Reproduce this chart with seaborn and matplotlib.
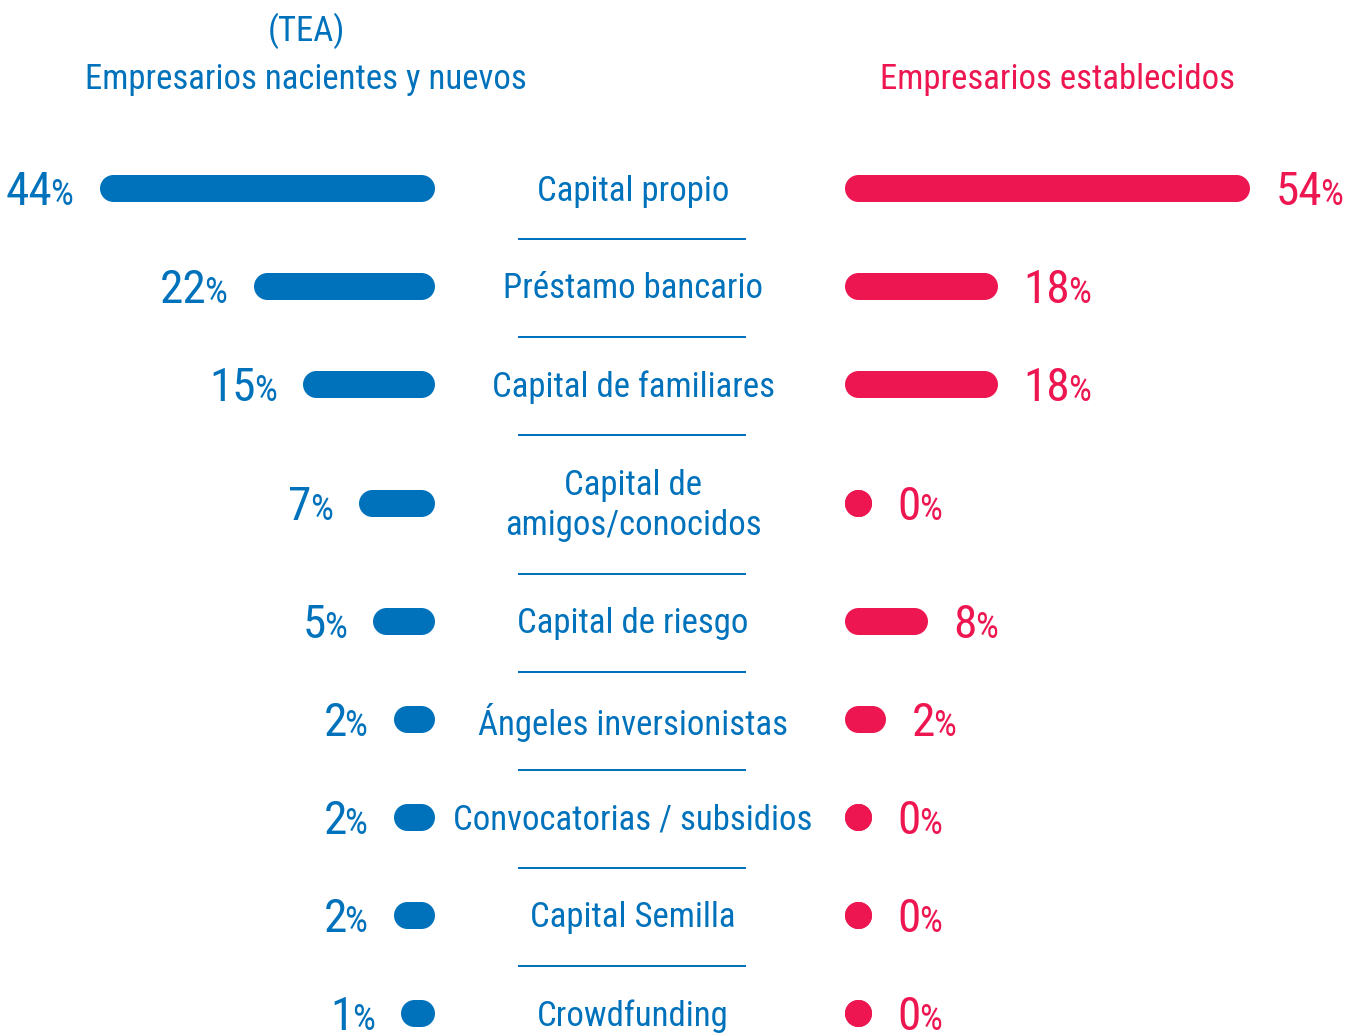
import matplotlib
matplotlib.use("Agg")
import matplotlib.pyplot as plt
from matplotlib import font_manager
from matplotlib.font_manager import FontProperties
import numpy as np
import pandas as pd
import seaborn as sns

# ---- data -------------------------------------------------------------
categories = [
    "Capital propio",
    "Préstamo bancario",
    "Capital de familiares",
    "Capital de\namigos/conocidos",
    "Capital de riesgo",
    "Ángeles inversionistas",
    "Convocatorias / subsidios",
    "Capital Semilla",
    "Crowdfunding",
]
tea_values = [44, 22, 15, 7, 5, 2, 2, 2, 1]
established_values = [54, 18, 18, 0, 8, 2, 0, 0, 0]
left_title_top = "(TEA)"
left_title = "Empresarios nacientes y nuevos"
right_title = "Empresarios establecidos"

BLUE = "#0072BC"
RED = "#ED1651"

# ---- theme / fonts ----------------------------------------------------
sns.set_theme(style="white")


def pick_font():
    names = {f.name for f in font_manager.fontManager.ttflist}
    for cand in ["Liberation Sans Narrow", "DejaVu Sans Condensed",
                 "Roboto Condensed", "Open Sans Condensed"]:
        if cand in names:
            return cand, "normal"
    for f in font_manager.fontManager.ttflist:
        if f.name == "DejaVu Sans" and f.stretch in ("condensed", 700):
            return "DejaVu Sans", "condensed"
    return "Roboto", "normal"


FONT, STRETCH = pick_font()
plt.rcParams["font.family"] = [FONT, "DejaVu Sans"]
plt.rcParams["font.stretch"] = STRETCH

W, H, DPI = 1364, 1036, 100
PX = 72 / DPI  # points per pixel

fig = plt.figure(figsize=(W / DPI, H / DPI), dpi=DPI)
fig.patch.set_facecolor("white")

# full-figure layout axes (pixel units, y down)
ax = fig.add_axes([0, 0, 1, 1])
ax.set_xlim(0, W)
ax.set_ylim(H, 0)
ax.axis("off")

# row layout: two-line labels get a taller row
row_h = np.array([139 if "\n" in c else 98 for c in categories], dtype=float)
top = 139
row_start = top + np.concatenate([[0], np.cumsum(row_h)[:-1]])
row_center = row_start + row_h / 2
separators = row_start[1:] + 2

SCALE = 7.0          # pixels per percentage point
BAR_PX = 27          # bar thickness
CAP = BAR_PX / 2
GAP = 26
LEFT_ORIGIN = 421
RIGHT_ORIGIN = 858
CENTER_X = 633

ax_l = fig.add_axes([0, 0, LEFT_ORIGIN / W, 1])
ax_l.set_xlim(LEFT_ORIGIN / SCALE, 0)
ax_r = fig.add_axes([RIGHT_ORIGIN / W, 0, (W - RIGHT_ORIGIN) / W, 1])
ax_r.set_xlim(0, (W - RIGHT_ORIGIN) / SCALE)
for a in (ax_l, ax_r):
    a.set_ylim(H, 0)
    a.axis("off")
    a.patch.set_alpha(0)

df = pd.DataFrame({
    "categoria": categories,
    "fila": row_center,
    "tea": tea_values,
    "establecidos": established_values,
})

renderer = fig.canvas.get_renderer()

NUM_PT = 34
PCT_PT = 26
LABEL_PT = 25
TITLE_PT = 25


def descent_px(size_pt):
    fp = FontProperties(family=[FONT, "DejaVu Sans"], stretch=STRETCH, size=size_pt)
    return renderer.get_text_width_height_descent("lp", fp, ismath=False)[2]


PCT_DESC = descent_px(PCT_PT)
NUM_DESC = descent_px(NUM_PT)
BASE_DROP = 17


def draw_side(a, col, color, side):
    vals = df[col].to_numpy()
    ys = df["fila"].to_numpy()
    a.hlines(ys, 0, vals, colors=color, linewidth=BAR_PX * PX,
             capstyle="butt", clip_on=False, zorder=2)
    ends = pd.DataFrame({"x": np.concatenate([np.zeros_like(vals), vals]),
                         "y": np.concatenate([ys, ys])})
    sns.scatterplot(data=ends, x="x", y="y", ax=a, color=color,
                    s=(BAR_PX * PX) ** 2, linewidth=0, marker="o",
                    legend=False, clip_on=False, zorder=3)
    a.set_xlabel("")
    a.set_ylabel("")
    off = CAP + GAP
    for v, y in zip(vals, ys):
        if side == "left":
            pct = a.annotate("%", xy=(v, y), xytext=(-off, -BASE_DROP),
                             textcoords="offset pixels", ha="right", va="baseline",
                             fontsize=PCT_PT, color=color, annotation_clip=False)
            a.annotate(f"{v}", xy=(0, 0), xycoords=pct, xytext=(2, PCT_DESC),
                       textcoords="offset pixels", ha="right", va="baseline",
                       fontsize=NUM_PT, color=color, annotation_clip=False)
        else:
            num = a.annotate(f"{v}", xy=(v, y), xytext=(off, -BASE_DROP),
                             textcoords="offset pixels", ha="left", va="baseline",
                             fontsize=NUM_PT, color=color, annotation_clip=False)
            a.annotate("%", xy=(1, 0), xycoords=num, xytext=(-2, NUM_DESC),
                       textcoords="offset pixels", ha="left", va="baseline",
                       fontsize=PCT_PT, color=color, annotation_clip=False)


draw_side(ax_l, "tea", BLUE, "left")
draw_side(ax_r, "establecidos", RED, "right")

# category labels and separators in the middle column
for name, y in zip(df["categoria"], df["fila"]):
    ax.text(CENTER_X, y + 3, name, ha="center", va="center", fontsize=LABEL_PT,
            color=BLUE, linespacing=1.3, multialignment="center")
ax.hlines(separators, 518, 746, colors=BLUE, linewidth=2 * PX)

# column headers
ax.text(306, 31, left_title_top, ha="center", va="center", fontsize=TITLE_PT, color=BLUE)
ax.text(306, 79, left_title, ha="center", va="center", fontsize=TITLE_PT, color=BLUE)
ax.text(1058, 79, right_title, ha="center", va="center", fontsize=TITLE_PT, color=RED)

fig.savefig("out.png", dpi=DPI, facecolor="white")
